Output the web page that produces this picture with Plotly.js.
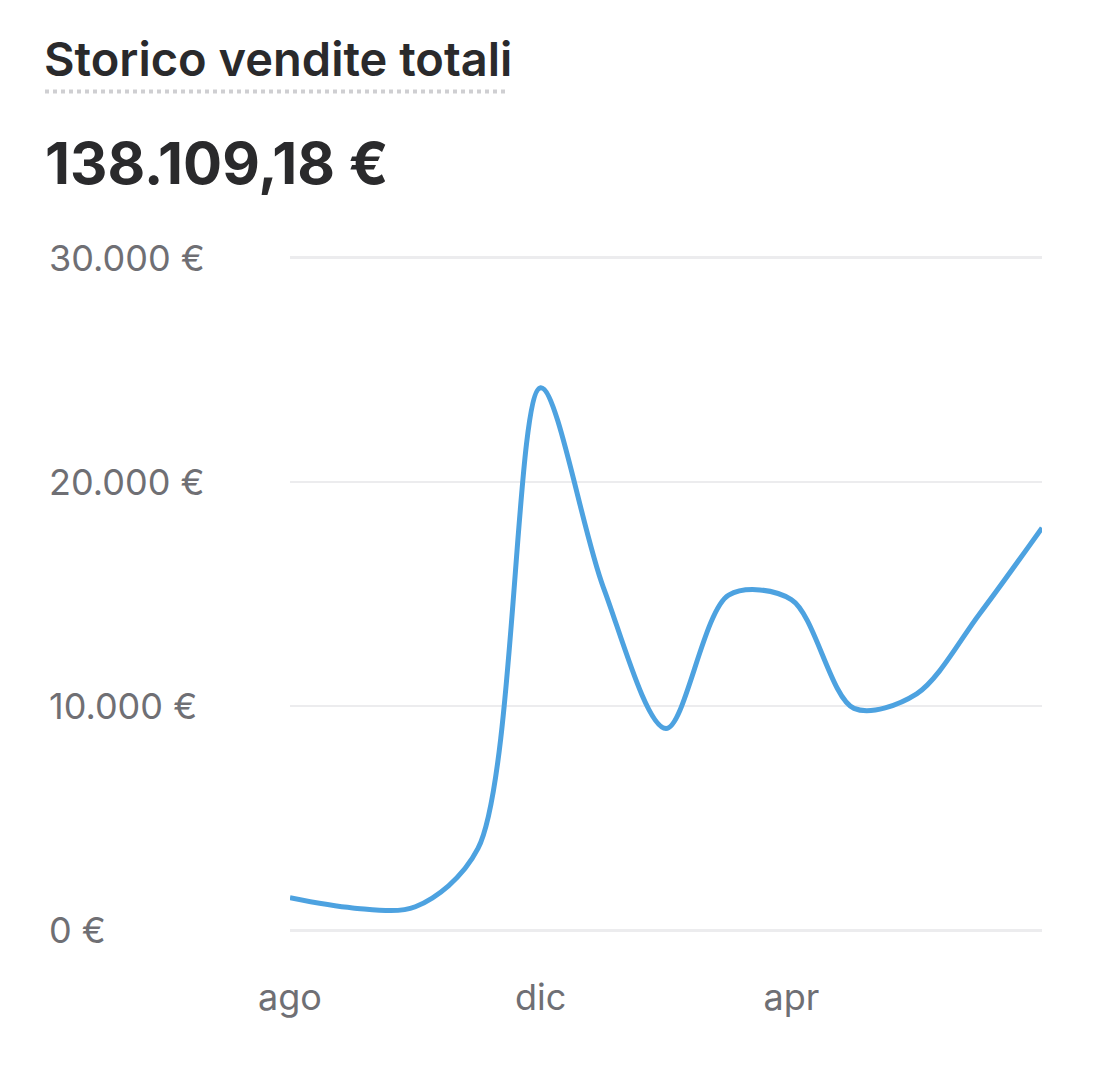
<!DOCTYPE html>
<html>
<head>
<meta charset="utf-8">
<script src="https://cdn.plot.ly/plotly-3.0.1.min.js"></script>
<style>
  html, body { margin: 0; padding: 0; background: #ffffff; }
  #chart { width: 1093px; height: 1067px; }
</style>
</head>
<body>
<div id="chart"></div>
<script>
// ---- data ----
const months = ["ago", "set", "ott", "nov", "dic", "gen", "feb", "mar", "apr", "mag", "giu", "lug", "ago"];
const sales = [1450, 1000, 1050, 3650, 24200, 15300, 9000, 14950, 14750, 9900, 10550, 14100, 17950];
const xTickIndex = [0, 4, 8];
const yTickValues = [0, 10000, 20000, 30000];
const yTickLabels = ["0 €", "10.000 €", "20.000 €", "30.000 €"];
const chartTitle = "Storico vendite totali";
const totalLabel = "138.109,18 €";

// ---- layout helpers ----
const W = 1093, H = 1067;
const yPad = 120; // small padding so edge gridlines are drawn
const pxPerUnit = 672 / 30000;
const M = { l: 290, r: 51, t: 258 - yPad * pxPerUnit, b: 137 - yPad * pxPerUnit };
const plotW = W - M.l - M.r, plotH = H - M.t - M.b;
const px2paperX = px => (px - M.l) / plotW;
const py2paperY = py => (H - M.b - py) / plotH;

const xIdx = months.map((_, i) => i);
const FONT = "Inter, 'Noto Sans', sans-serif";

const trace = {
  type: "scatter",
  mode: "lines",
  x: xIdx,
  y: sales,
  line: { color: "#4da2e0", width: 5, shape: "spline", smoothing: 0.9 },
  hoverinfo: "skip"
};

const annotations = yTickValues.map((v, i) => ({
  xref: "paper", yref: "y",
  x: px2paperX(47), y: v,
  xanchor: "left", yanchor: "middle",
  text: yTickLabels[i],
  showarrow: false,
  font: { family: FONT, size: 36, color: "#6f6f74" }
}));

annotations.push({
  xref: "paper", yref: "paper",
  x: px2paperX(43), y: py2paperY(163),
  xanchor: "left", yanchor: "middle",
  text: totalLabel,
  showarrow: false,
  font: { family: FONT, size: 58, color: "#2a2a2c", weight: 700 }
});

const layout = {
  width: W, height: H,
  margin: M,
  paper_bgcolor: "#ffffff",
  plot_bgcolor: "#ffffff",
  showlegend: false,
  title: {
    text: chartTitle,
    x: 44 / W, xanchor: "left", xref: "container",
    y: 1 - 60 / H, yanchor: "middle", yref: "container",
    font: { family: FONT, size: 47, color: "#2a2a2c", weight: 600 }
  },
  xaxis: {
    range: [0, months.length - 1],
    tickvals: xTickIndex,
    ticktext: xTickIndex.map(i => months[i]),
    showgrid: false, zeroline: false, showline: false,
    ticks: "", ticklabelstandoff: 40,
    tickfont: { family: FONT, size: 36, color: "#6f6f74" },
    fixedrange: true
  },
  yaxis: {
    range: [-yPad, 30000 + yPad],
    tickvals: yTickValues,
    showticklabels: false,
    showgrid: true, gridcolor: "#ececee", gridwidth: 2.5,
    zeroline: false, showline: false, ticks: "",
    fixedrange: true
  },
  shapes: [{
    type: "line", xref: "paper", yref: "paper",
    x0: px2paperX(45), x1: px2paperX(508),
    y0: py2paperY(92), y1: py2paperY(92),
    line: { color: "#cfcfd2", width: 4, dash: "dot" }
  }],
  annotations: annotations
};

Plotly.newPlot("chart", [trace], layout, { displayModeBar: false, staticPlot: true });
</script>
</body>
</html>
